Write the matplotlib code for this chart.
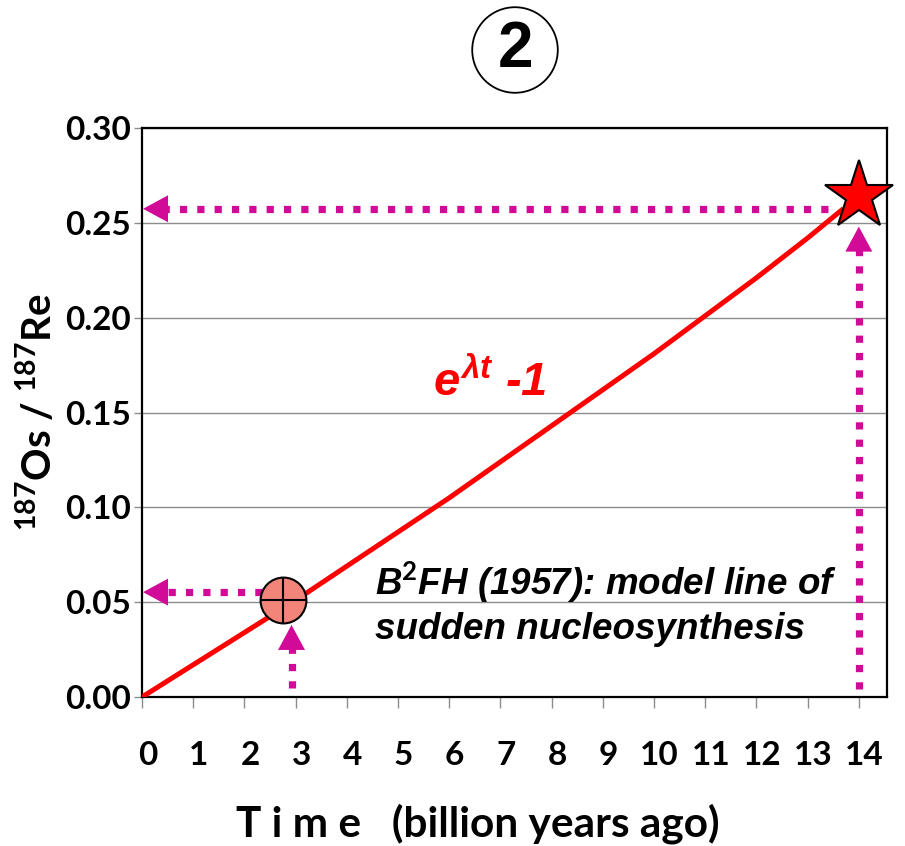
import numpy as np
import matplotlib
matplotlib.use('Agg')
import matplotlib.pyplot as plt
from matplotlib.patches import Polygon
from matplotlib.transforms import ScaledTranslation

plt.rcParams['mathtext.fontset'] = 'custom'
plt.rcParams['mathtext.rm'] = 'Lato:bold'
plt.rcParams['mathtext.bf'] = 'Lato:bold'
plt.rcParams['mathtext.it'] = 'Liberation Sans:bold:italic'

# model line e^(lambda t) - 1
time = [0, 1, 2, 3, 4, 5, 6, 7, 8, 9, 10, 11, 12, 13, 13.7]
ratio = [0, 0.017, 0.034, 0.051, 0.069, 0.087, 0.105, 0.124, 0.143, 0.162,
         0.181, 0.201, 0.221, 0.242, 0.2575]

# measured points
circle_pt = (2.76, 0.051)
star_pt = (14.0, 0.264)

# dotted arrows: (x0, y0) -> (x1, y1), head at the end
arrows = [
    ((2.35, 0.0553), (0.02, 0.0553)),
    ((2.92, 0.005), (2.92, 0.038)),
    ((13.4, 0.2574), (0.02, 0.2574)),
    ((14.0, 0.004), (14.0, 0.248)),
]

xticks = list(range(0, 15))
yticks = [0.00, 0.05, 0.10, 0.15, 0.20, 0.25, 0.30]

magenta = '#D20A98'

fig = plt.figure(figsize=(9.05, 8.46), dpi=100)
ax = fig.add_axes([0.1569, 0.1761, 0.9801 - 0.1569, 0.8487 - 0.1761])

ax.set_xlim(0, 14.55)
ax.set_ylim(0, 0.30)
ax.set_yticks(yticks)
ax.set_yticklabels(['%.2f' % v for v in yticks])
ax.set_xticks(xticks)
ax.set_xticklabels([str(v) for v in xticks])
ax.yaxis.grid(True, color='#8c8c8c', lw=1.0)
ax.set_axisbelow(True)

for s in ax.spines.values():
    s.set_linewidth(1.6)
    s.set_color('black')

ax.tick_params(axis='y', length=6, width=1, color='#8c8c8c', pad=2,
               labelsize=24)
ax.tick_params(axis='x', length=8, width=1, color='#8c8c8c', pad=24,
               labelsize=24)
for lbl in ax.get_xticklabels() + ax.get_yticklabels():
    lbl.set_fontfamily('Lato')
    lbl.set_fontweight('bold')
for lbl in ax.get_xticklabels():
    lbl.set_transform(lbl.get_transform() + ScaledTranslation(4 / 72, 0, fig.dpi_scale_trans))

# red model curve
ax.plot(time, ratio, color='red', lw=3.6, solid_capstyle='butt', zorder=3)

# dotted magenta arrows
px_x = 14.55 / 745.0   # data units per pixel
px_y = 0.30 / 569.0
head_len = 25
head_half = 13.5
for (x0, y0), (x1, y1) in arrows:
    ux = np.sign(x1 - x0)
    uy = np.sign(y1 - y0)
    ax.plot([x0, x1 - ux * 17 * px_x], [y0, y1 - uy * 17 * px_y],
            color=magenta, lw=5.2, linestyle=(0, (1, 1.4)),
            dash_capstyle='butt', zorder=4, clip_on=False)
    bx = x1 - ux * head_len * px_x
    by = y1 - uy * head_len * px_y
    # perpendicular direction
    px, py = -uy * head_half * px_x, ux * head_half * px_y
    ax.add_patch(Polygon([(x1, y1), (bx + px, by + py), (bx - px, by - py)],
                         closed=True, fc=magenta, ec='none', zorder=5,
                         clip_on=False))

# circle with cross
ax.plot(*circle_pt, marker='o', ms=33, mfc='#F28479', mec='black', mew=1.5,
        zorder=6)
ax.plot(*circle_pt, marker='+', ms=33, mec='black', mew=1.5, zorder=7)

# star
ax.plot(*star_pt, marker='*', ms=52, mfc='red', mec='black', mew=1.5,
        zorder=8, clip_on=False)

ax.text(5.69, 0.159, r'$e^{\lambda t}$ -1', color='red', fontsize=34,
        family='Liberation Sans', fontweight='bold', style='italic',
        ha='left', va='baseline', zorder=5)

ax.text(4.55, 0.0305, 'B$^{\\mathit{2}}$FH (1957): model line of\nsudden nucleosynthesis',
        fontsize=26.5, family='Liberation Sans', fontweight='bold',
        style='italic', ha='left', va='baseline', linespacing=1.28, zorder=5)

ax.set_xlabel('T i m e   (billion years ago)', family='Lato',
              fontweight='bold', fontsize=30.5)
ax.xaxis.set_label_coords(0.451, -0.246)
ax.xaxis.label.set_va('baseline')
ax.set_ylabel(r'$^{187}$Os / $^{187}$Re', family='Lato', fontweight='bold',
              fontsize=29, labelpad=4)

fig.text(515 / 905, 1 - 50 / 846, '2', fontsize=46, family='Liberation Sans',
         fontweight='bold', ha='center', va='center',
         bbox=dict(boxstyle='circle,pad=0.2', fc='white', ec='black', lw=1.3))

fig.savefig('out.png', dpi=100)
